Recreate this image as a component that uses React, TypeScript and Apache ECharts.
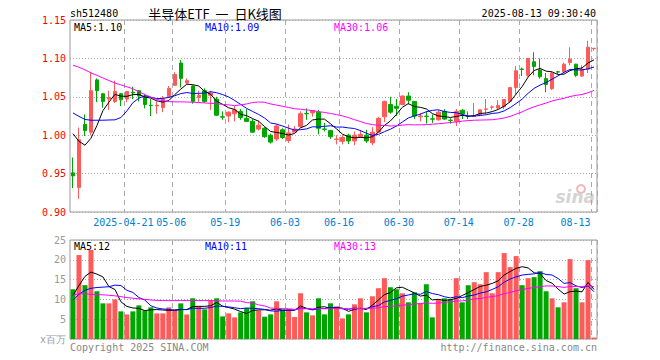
import React, { useEffect, useRef } from 'react';
import * as echarts from 'echarts';

const dates = [
  '2025-04-08','2025-04-09','2025-04-10','2025-04-11','2025-04-14','2025-04-15','2025-04-16','2025-04-17','2025-04-18',
  '2025-04-21','2025-04-22','2025-04-23','2025-04-24','2025-04-25','2025-04-28','2025-04-29','2025-04-30',
  '2025-05-06','2025-05-07','2025-05-08','2025-05-09','2025-05-12','2025-05-13','2025-05-14','2025-05-15','2025-05-16',
  '2025-05-19','2025-05-20','2025-05-21','2025-05-22','2025-05-23','2025-05-26','2025-05-27','2025-05-28','2025-05-29','2025-05-30',
  '2025-06-03','2025-06-04','2025-06-05','2025-06-06','2025-06-09','2025-06-10','2025-06-11','2025-06-12','2025-06-13',
  '2025-06-16','2025-06-17','2025-06-18','2025-06-19','2025-06-20','2025-06-23','2025-06-24','2025-06-25','2025-06-26','2025-06-27',
  '2025-06-30','2025-07-01','2025-07-02','2025-07-03','2025-07-04','2025-07-07','2025-07-08','2025-07-09','2025-07-10','2025-07-11',
  '2025-07-14','2025-07-15','2025-07-16','2025-07-17','2025-07-18','2025-07-21','2025-07-22','2025-07-23','2025-07-24','2025-07-25',
  '2025-07-28','2025-07-29','2025-07-30','2025-07-31','2025-08-01','2025-08-04','2025-08-05','2025-08-06','2025-08-07','2025-08-08',
  '2025-08-11','2025-08-12','2025-08-13'
];

const opens = [
  0.951, 0.932, 1.014, 1.004, 1.072, 1.054, 1.047, 1.044, 1.054, 1.047,
  1.056, 1.058, 1.050, 1.039, 1.038, 1.036, 1.050, 1.065, 1.094, 1.068,
  1.064, 1.049, 1.058, 1.052, 1.047, 1.024, 1.025, 1.028, 1.031, 1.022,
  1.018, 1.008, 1.009, 1.000, 0.995, 1.007, 0.993, 1.004, 1.011, 1.0283,
  1.029, 1.030, 1.0081, 1.006, 0.9945, 0.992, 1.000, 0.9925, 0.998, 1.000,
  0.990, 1.004, 1.024, 1.040, 1.0377, 1.040, 1.051, 1.044, 1.024, 1.0248,
  1.0213, 1.020, 1.031, 1.0195, 1.018, 1.0325, 1.0248, 1.0244, 1.027, 1.0338,
  1.0364, 1.0355, 1.037, 1.044, 1.062, 1.0862, 1.078, 1.0956, 1.085, 1.0737,
  1.0605, 1.0826, 1.0825, 1.0947, 1.0925, 1.077, 1.086, 1.1127
];
const closes = [
  0.947, 0.994, 1.006, 1.058, 1.058, 1.044, 1.049, 1.057, 1.046, 1.057,
  1.055, 1.051, 1.040, 1.0385, 1.039, 1.047, 1.061, 1.079, 1.074, 1.071,
  1.044, 1.052, 1.044, 1.055, 1.026, 1.0235, 1.030, 1.033, 1.023, 1.018,
  1.004, 1.013, 0.998, 0.991, 1.012, 0.997, 1.003, 1.008, 1.028, 1.0279,
  1.032, 1.009, 1.0077, 0.998, 0.995, 0.997, 0.9925, 1.000, 1.001, 0.9925,
  1.004, 1.022, 1.044, 1.030, 1.035, 1.051, 1.0456, 1.025, 1.025, 1.0244,
  1.0209, 1.030, 1.021, 1.0193, 1.031, 1.028, 1.0244, 1.025, 1.033, 1.0342,
  1.0368, 1.0386, 1.0465, 1.062, 1.084, 1.0857, 1.100, 1.0895, 1.076, 1.066,
  1.081, 1.0822, 1.0925, 1.099, 1.078, 1.086, 1.1145, 1.1132
];
const lows = [
  0.931, 0.917, 0.999, 1.000, 1.043, 1.036, 1.033, 1.042, 1.038, 1.043,
  1.047, 1.044, 1.035, 1.025, 1.028, 1.030, 1.049, 1.064, 1.062, 1.067,
  1.041, 1.043, 1.042, 1.033, 1.025, 1.020, 1.017, 1.018, 1.020, 1.0175,
  1.003, 1.006, 0.9965, 0.989, 0.9925, 0.995, 0.990, 1.0035, 1.010, 1.020,
  1.024, 1.001, 1.005, 0.995, 0.988, 0.988, 0.9886, 0.987, 0.9965, 0.990,
  0.987, 1.0035, 1.017, 1.028, 1.025, 1.039, 1.040, 1.021, 1.018, 1.015,
  1.016, 1.019, 1.020, 1.015, 1.012, 1.021, 1.021, 1.0237, 1.0246, 1.028,
  1.0333, 1.034, 1.034, 1.043, 1.053, 1.077, 1.076, 1.078, 1.0737, 1.056,
  1.0588, 1.0794, 1.0816, 1.091, 1.076, 1.076, 1.081, 1.110
];
const highs = [
  0.971, 1.010, 1.027, 1.082, 1.074, 1.055, 1.058, 1.071, 1.055, 1.057,
  1.063, 1.058, 1.053, 1.047, 1.044, 1.051, 1.064, 1.082, 1.098, 1.074,
  1.065, 1.058, 1.061, 1.058, 1.050, 1.031, 1.031, 1.038, 1.034, 1.034,
  1.021, 1.019, 1.0105, 1.002, 1.014, 1.009, 1.014, 1.012, 1.031, 1.035,
  1.0325, 1.033, 1.016, 1.007, 1.000, 1.000, 1.002, 1.005, 1.007, 1.007,
  1.0105, 1.024, 1.045, 1.050, 1.047, 1.052, 1.056, 1.044, 1.029, 1.031,
  1.027, 1.0325, 1.034, 1.022, 1.034, 1.034, 1.031, 1.042, 1.0337, 1.047,
  1.0386, 1.0456, 1.0465, 1.062, 1.090, 1.088, 1.100, 1.108, 1.100, 1.081,
  1.0825, 1.0838, 1.0947, 1.1145, 1.093, 1.091, 1.123, 1.1135
];
// volume, in millions
const volumes = [
  12.56, 21.2, 13.6, 22.5, 12.06, 9.0, 9.0, 10.0, 6.98, 6.2,
  6.98, 8.5, 7.2, 7.99, 6.47, 6.47, 7.99, 7.49, 9.0, 6.2,
  10.28, 8.25, 7.49, 9.77, 10.28, 5.71, 6.47, 5.46, 6.73, 7.82,
  9.52, 7.23, 5.63, 6.22, 9.52, 7.49, 7.49, 5.55, 11.55, 6.73,
  5.97, 10.28, 6.22, 9.01, 8.25, 5.2, 6.22, 8.76, 10.28, 6.73,
  10.79, 12.82, 15.36, 13.07, 12.56, 11.55, 9.26, 11.8, 9.01, 13.83,
  5.46, 10.03, 10.28, 10.03, 15.36, 9.26, 13.58, 14.34, 13.83, 16.88,
  11.55, 16.88, 21.7, 18.15, 20.94, 13.58, 15.36, 15.61, 17.13, 12.06,
  10.28, 8.0, 9.26, 20.18, 12.82, 9.26, 19.92, 0.38
];

// moving-average values at the left edge (their windows start before the first visible day)
const priceMa5Head = [1.002, 0.992, 0.987, 0.996];
const priceMa10Head = [1.029, 1.0245, 1.0205, 1.0195, 1.0195, 1.0195, 1.0198, 1.02, 1.023];
const priceMa30Head = [1.091, 1.0885, 1.085, 1.0812, 1.078, 1.0745, 1.0712, 1.068, 1.0655, 1.063,
  1.0605, 1.0565, 1.053, 1.0495, 1.0465, 1.045, 1.0437, 1.0434, 1.0434, 1.0432,
  1.043, 1.0425, 1.042, 1.0415, 1.041, 1.04, 1.0395, 1.0385, 1.0395];
const volMa5Head = [11.0, 13.5, 15.8, 16.9];
const volMa10Head = [9.8, 11.3, 12.3, 12.8, 13.0, 13.1, 13.2, 13.6, 13.5];
const volMa30Head = [11.1, 11.45, 11.4, 11.3, 11.2, 11.15, 11.05, 10.9, 10.7, 10.45,
  10.3, 10.15, 10.0, 9.85, 9.75, 9.7, 9.7, 9.7, 9.7, 9.7,
  9.7, 9.7, 9.7, 9.7, 9.65, 9.6, 9.6, 9.6, 9.55];

const labeledDates = ['2025-04-21','2025-05-06','2025-05-19','2025-06-03','2025-06-16','2025-06-30','2025-07-14','2025-07-28','2025-08-13'];
const priceTicks = { min: 0.9, max: 1.15, interval: 0.05 };
const volTicks = { min: 0, max: 25, interval: 5 };
const priceMaLabels = ['MA5:1.10', 'MA10:1.09', 'MA30:1.06'];
const volMaLabels = ['MA5:12', 'MA10:11', 'MA30:13'];

const RED = '#ff5a5a';
const GREEN = '#00a600';
const MONO = 'DejaVu Sans Mono';

function movingAvg(src: number[], n: number, head: number[]) {
  return src.map((_, i) => {
    if (i < n - 1) return head[i];
    let s = 0;
    for (let k = i - n + 1; k <= i; k++) s += src[k];
    return +(s / n).toFixed(4);
  });
}

export default function App() {
  const ref = useRef<HTMLDivElement>(null);
  useEffect(() => {
    const chart = echarts.init(ref.current!, null, { renderer: 'svg' });
    const kData = dates.map((_, i) => [opens[i], closes[i], lows[i], highs[i]]);
    const isUp = (i: number) => closes[i] >= opens[i];
    const lineS = (name: string, data: number[], color: string, xi: number) => ({
      type: 'line', name, data, xAxisIndex: xi, yAxisIndex: xi, showSymbol: false, symbol: 'none',
      lineStyle: { color, width: 1 }, silent: true, z: 5,
    });
    const xAxisBase = (gi: number, showLabel: boolean) => ({
      type: 'category', gridIndex: gi, data: dates, boundaryGap: true,
      axisLine: { show: false }, axisTick: { show: false },
      axisLabel: {
        show: showLabel,
        interval: (_i: number, v: string) => labeledDates.includes(v),
        formatter: (v: string) => v === labeledDates[0] ? v : (v === labeledDates[labeledDates.length - 1] ? `{last|${v.slice(5)}}` : v.slice(5)),
        color: '#0080d0', fontFamily: MONO, fontSize: 10, margin: 5, padding: [0, 7, 0, 0],
        rich: { last: { color: '#0080d0', fontFamily: MONO, fontSize: 10, padding: [0, 30, 0, 0] } },
      },
      splitLine: {
        show: true,
        interval: (_i: number, v: string) => labeledDates.includes(v),
        lineStyle: { color: '#aaaaaa', type: [5, 4], width: 1 },
      },
    });
    const txt = (x: number, y: number, text: string, fill: string, extra: any = {}) => ({
      type: 'text', x, y, silent: true,
      style: { text, fill, font: `10px "${MONO}"`, textVerticalAlign: 'middle', ...extra },
    });
    chart.setOption({
      animation: false,
      backgroundColor: '#ffffff',
      grid: [
        { left: 70, top: 20, width: 527, height: 192, show: true, borderColor: '#999999', borderWidth: 1 },
        { left: 70, top: 240, width: 527, height: 99, show: true, borderColor: '#999999', borderWidth: 1 },
      ],
      xAxis: [xAxisBase(0, true), xAxisBase(1, false)],
      yAxis: [
        {
          type: 'value', gridIndex: 0, ...priceTicks, scale: true,
          axisLine: { show: false }, axisTick: { show: false },
          axisLabel: { color: '#ff0000', fontFamily: MONO, fontSize: 10, margin: 4, formatter: (v: number) => v.toFixed(2) },
          splitLine: { show: true, lineStyle: { color: '#aaaaaa', type: [1, 2] } },
        },
        {
          type: 'value', gridIndex: 1, ...volTicks,
          axisLine: { show: false }, axisTick: { show: false },
          axisLabel: { color: '#999999', fontFamily: MONO, fontSize: 10, margin: 4, formatter: (v: number) => v === 0 ? 'x百万' : String(v) },
          splitLine: { show: true, lineStyle: { color: '#aaaaaa', type: [1, 2] } },
        },
      ],
      series: [
        {
          type: 'candlestick', data: kData, xAxisIndex: 0, yAxisIndex: 0, barWidth: 4,
          itemStyle: { color: RED, color0: GREEN, borderColor: RED, borderColor0: GREEN, borderWidth: 1 },
          silent: true,
        },
        lineS('MA5', movingAvg(closes, 5, priceMa5Head), '#000000', 0),
        lineS('MA10', movingAvg(closes, 10, priceMa10Head), '#0000ff', 0),
        lineS('MA30', movingAvg(closes, 30, priceMa30Head), '#ff00ff', 0),
        {
          type: 'bar', data: volumes, xAxisIndex: 1, yAxisIndex: 1, barWidth: 5, silent: true,
          itemStyle: { color: (p: any) => (isUp(p.dataIndex) ? RED : GREEN) },
        },
        lineS('VMA5', movingAvg(volumes, 5, volMa5Head), '#000000', 1),
        lineS('VMA10', movingAvg(volumes, 10, volMa10Head), '#0000ff', 1),
        lineS('VMA30', movingAvg(volumes, 30, volMa30Head), '#ff00ff', 1),
      ],
      graphic: [
        txt(70, 13, 'sh512480', '#000000'),
        { type: 'text', x: 215, y: 13, silent: true, style: { text: '半导体ETF  一  日K线图', fill: '#000000', font: '13px "Noto Sans CJK SC"', textAlign: 'center', textVerticalAlign: 'middle' } },
        txt(596, 13, '2025-08-13 09:30:40', '#000000', { textAlign: 'right' }),
        txt(74, 27, priceMaLabels[0], '#000000'),
        txt(205, 27, priceMaLabels[1], '#0000ff'),
        txt(334, 27, priceMaLabels[2], '#ff00ff'),
        txt(74, 246, volMaLabels[0], '#000000'),
        txt(205, 246, volMaLabels[1], '#0000ff'),
        txt(334, 246, volMaLabels[2], '#ff00ff'),
        txt(70, 347, 'Copyright 2025 SINA.COM', '#888888'),
        txt(597, 347, 'http://finance.sina.com.cn', '#888888', { textAlign: 'right' }),
        { type: 'circle', silent: true, shape: { cx: 581, cy: 189, r: 4 }, style: { fill: 'none', stroke: '#f2b8b8', lineWidth: 2 } },
        { type: 'text', x: 595, y: 205, silent: true, style: { text: 'sina', fill: '#d4d4d4', font: 'italic bold 17px "DejaVu Sans"', textAlign: 'right', textVerticalAlign: 'bottom' } },
      ],
    });
    return () => chart.dispose();
  }, []);
  return <div ref={ref} style={{ position: 'absolute', left: 0, top: 0, width: 660, height: 360, background: '#fff' }} />;
}
